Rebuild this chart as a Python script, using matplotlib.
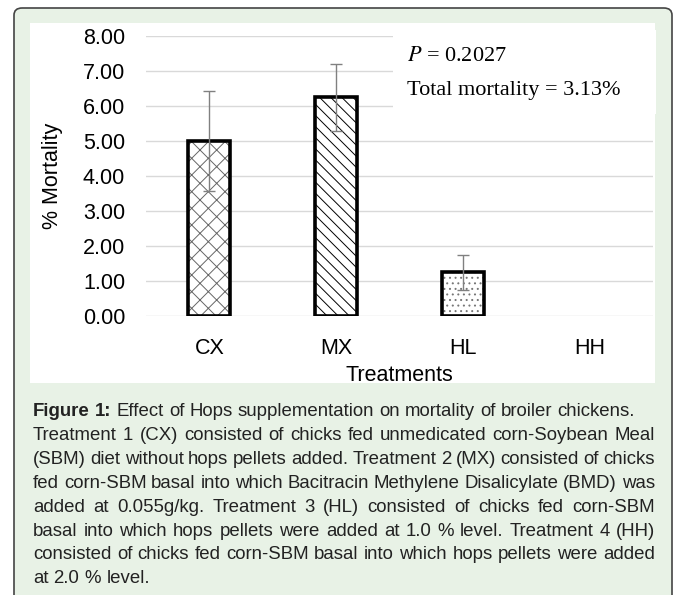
import numpy as np
import matplotlib.pyplot as plt
from matplotlib.patches import FancyBboxPatch, Rectangle

# data
treatments = ["CX", "MX", "HL", "HH"]
mortality = [5.00, 6.25, 1.25, 0.00]
err = [1.43, 0.95, 0.50, 0.00]
hatches = ["xx", "\\\\\\", "...", ""]
hatch_cols = ["#666666", "#000000", "#777777", "#000000"]
yticks = [0, 1, 2, 3, 4, 5, 6, 7, 8]

caption = [
    ("Figure 1: Effect of Hops supplementation on mortality of broiler chickens.", False),
    ("Treatment 1 (CX) consisted of chicks fed unmedicated corn-Soybean Meal", True),
    ("(SBM) diet without hops pellets added.  Treatment 2 (MX) consisted of chicks", True),
    ("fed corn-SBM basal into which Bacitracin Methylene Disalicylate (BMD) was", True),
    ("added at 0.055g/kg. Treatment 3 (HL) consisted of chicks fed corn-SBM", True),
    ("basal into which hops pellets were added at 1.0 % level. Treatment 4 (HH)", True),
    ("consisted of chicks fed corn-SBM basal into which hops pellets were added", True),
    ("at 2.0 % level.", False),
]

plt.rcParams["font.family"] = ["Liberation Sans", "DejaVu Sans"]
plt.rcParams["hatch.linewidth"] = 0.7
plt.rcParams["mathtext.fontset"] = "stix"

W, H = 677, 595
fig = plt.figure(figsize=(W / 100, H / 100), dpi=100, facecolor="white")


def px(x, y):
    return x / W, 1 - y / H


# green panel with rounded border, and white chart area
fig.patches.append(FancyBboxPatch(px(14, 640), 658 / W, 632 / H,
                                  boxstyle="round,pad=0,rounding_size=0.012",
                                  transform=fig.transFigure, facecolor="#e8f2e6",
                                  edgecolor="#444444", linewidth=1.2, zorder=-3))
fig.patches.append(Rectangle(px(30, 383), 625 / W, 360 / H, transform=fig.transFigure,
                             facecolor="white", edgecolor="none", zorder=-2))

ax = fig.add_axes([146 / W, 1 - 316 / H, 507 / W, 280 / H])
ax.set_facecolor("none")
x = np.arange(len(treatments))
bw = 0.33
for i in range(len(x)):
    if mortality[i] <= 0:
        continue
    ax.bar(x[i], mortality[i], bw, color="white", hatch=hatches[i],
           edgecolor=hatch_cols[i], linewidth=0, zorder=2)
    ax.bar(x[i], mortality[i], bw, fill=False, edgecolor="black", linewidth=2.6, zorder=3)
m = np.array(mortality) > 0
ax.errorbar(x[m], np.array(mortality)[m], yerr=np.array(err)[m], fmt="none",
            ecolor="#808080", elinewidth=1, capsize=4, capthick=1, zorder=4)

ax.set_ylim(0, 8)
ax.set_xlim(-0.5, 3.5)
ax.set_yticks(yticks)
ax.set_yticklabels([f"{v:.2f}" for v in yticks], fontsize=15.5)
ax.set_xticks(x)
ax.set_xticklabels(treatments, fontsize=15.5)
ax.tick_params(axis="y", length=0, pad=15)
ax.tick_params(axis="x", length=0, pad=16)
for s in ax.spines.values():
    s.set_visible(False)
ax.set_axisbelow(True)
ax.grid(axis="y", color="#d9d9d9", linewidth=1)
ax.set_ylabel("% Mortality", fontsize=15.5, labelpad=14)
ax.set_xlabel("Treatments", fontsize=15.5, labelpad=4)

# white box behind the statistics text hides the upper gridlines
bx0, by0 = (393 - 146) / 507, (316 - 114) / 280
ax.add_patch(Rectangle((bx0, by0), 1.005 - bx0, 1.02 - by0,
                       transform=ax.transAxes, facecolor="white", edgecolor="none",
                       zorder=1, clip_on=False))
fig.text(*px(407, 61), "$P$ = 0.2027", family="Liberation Serif", fontsize=16, va="baseline")
fig.text(*px(407, 95), "Total mortality = 3.13%", family="Liberation Serif",
         fontsize=16, va="baseline")

# caption, justified like the source
fig.canvas.draw()
r = fig.canvas.get_renderer()
x0, x1 = 33, 655
fs = 13.4
min_gap = 3.0


def place(words, size, y, k):
    arts = []
    for j, w in enumerate(words):
        bold = k == 0 and j < 2
        arts.append(fig.text(0, y, w, fontsize=size, va="baseline",
                             fontweight="bold" if bold else "normal", color="#222222"))
    return arts, [t.get_window_extent(r).width for t in arts]


for k, (line, justify) in enumerate(caption):
    y = 1 - (416 + k * 23.9) / H
    words = line.split()
    size = fs
    arts, widths = place(words, size, y, k)
    if justify:
        gap = (x1 - x0 - sum(widths)) / (len(words) - 1)
        if gap < min_gap:
            for t in arts:
                t.remove()
            size = fs * (x1 - x0 - min_gap * (len(words) - 1)) / sum(widths)
            arts, widths = place(words, size, y, k)
            gap = (x1 - x0 - sum(widths)) / (len(words) - 1)
    else:
        sp = fig.text(0, 0, "a b", fontsize=size)
        sp2 = fig.text(0, 0, "ab", fontsize=size)
        gap = sp.get_window_extent(r).width - sp2.get_window_extent(r).width
        sp.remove(); sp2.remove()
    cx = x0
    for t, wd in zip(arts, widths):
        t.set_x(cx / W)
        cx += wd + gap

fig.savefig("out.png", dpi=100, facecolor="white")
